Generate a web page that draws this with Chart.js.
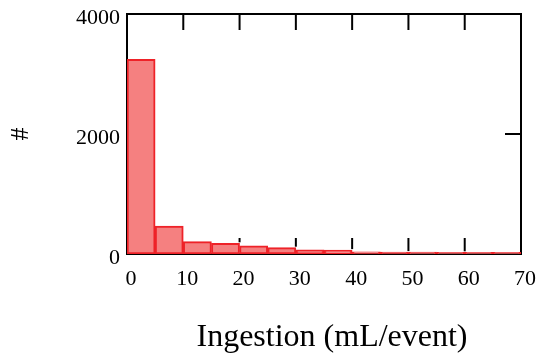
<!DOCTYPE html>
<html>
<head>
<meta charset="utf-8">
<script src="https://cdn.jsdelivr.net/npm/chart.js@4"></script>
<style>
  html, body { margin: 0; padding: 0; background: #fff; }
  #wrap { width: 538px; height: 354px; }
</style>
</head>
<body>
<div id="wrap"><canvas id="histChart"></canvas></div>
<script>
// histogram bins (mL/event), 5 mL wide
const binCenters = [2.5, 7.5, 12.5, 17.5, 22.5, 27.5, 32.5, 37.5, 42.5, 47.5, 52.5, 57.5, 62.5, 67.5];
const counts = [3245, 465, 205, 178, 138, 105, 68, 65, 35, 32, 30, 28, 27, 27];
const xTicks = [0, 10, 20, 30, 40, 50, 60, 70];
const yTicks = [0, 2000, 4000];

const serif = "'Liberation Serif', 'DejaVu Serif', serif";
const TICK_LEN = 16;

function xPix(a, v) {
  const xMin = xTicks[0], xMax = xTicks[xTicks.length - 1];
  return a.left + (v - xMin) / (xMax - xMin) * (a.right - a.left);
}

// box frame + inward ticks (bottom ticks stop where a bar covers them)
const framePlugin = {
  id: "frame",
  beforeDatasetsDraw(chart) {
    const { ctx, chartArea: a } = chart;
    const ys = chart.scales.y;
    ctx.save();
    ctx.strokeStyle = "#000";
    ctx.lineWidth = 2;
    ctx.strokeRect(a.left, a.top, a.right - a.left, a.bottom - a.top);
    xTicks.forEach(v => {
      const px = xPix(a, v);
      ctx.beginPath();
      ctx.moveTo(px, a.top); ctx.lineTo(px, a.top + TICK_LEN);
      ctx.stroke();
    });
    yTicks.forEach(v => {
      const py = ys.getPixelForValue(v);
      ctx.beginPath();
      ctx.moveTo(a.left, py); ctx.lineTo(a.left + TICK_LEN, py);
      ctx.moveTo(a.right, py); ctx.lineTo(a.right - TICK_LEN, py);
      ctx.stroke();
    });
    ctx.restore();
  },
  afterDatasetsDraw(chart) {
    const { ctx, chartArea: a } = chart;
    const bars = chart.getDatasetMeta(0).data;
    ctx.save();
    ctx.strokeStyle = "#000";
    ctx.lineWidth = 2;
    xTicks.forEach(v => {
      const px = xPix(a, v);
      let stop = a.bottom;
      bars.forEach(b => {
        if (b.x - b.width / 2 - 2 <= px && b.x + b.width / 2 + 2 >= px) stop = Math.min(stop, b.y - 1);
      });
      const y1 = a.bottom - TICK_LEN;
      if (stop > y1) {
        ctx.beginPath();
        ctx.moveTo(px, y1); ctx.lineTo(px, stop);
        ctx.stroke();
      }
    });
    ctx.restore();
  }
};

new Chart(document.getElementById("histChart"), {
  type: "bar",
  data: {
    datasets: [{
      data: binCenters.map((c, i) => ({ x: c, y: counts[i] })),
      backgroundColor: "rgb(245,128,128)",
      borderColor: "rgb(238,34,40)",
      borderWidth: 2,
      borderSkipped: false,
      barPercentage: 1,
      categoryPercentage: 1
    }]
  },
  options: {
    responsive: true,
    maintainAspectRatio: false,
    animation: false,
    layout: { padding: { top: 14, right: 17, left: 0, bottom: 0 } },
    plugins: { legend: { display: false }, tooltip: { enabled: false } },
    scales: {
      x: {
        type: "linear",
        min: 0, max: 70,
        offset: false,
        grid: { display: false, drawTicks: false },
        border: { display: false },
        afterBuildTicks: s => { s.ticks = xTicks.map(v => ({ value: v })); },
        ticks: { color: "#000", font: { family: serif, size: 22 }, padding: 12, maxRotation: 0,
                 labelOffset: 4, callback: v => String(v) },
        title: { display: true, text: "\u2002Ingestion (mL/event)", color: "#000",
                 font: { family: serif, size: 32, lineHeight: 1.0 }, padding: { top: 0, bottom: 0 } },
        afterFit: s => { s.height = 100; s.paddingLeft = 0; s.paddingRight = 0; }
      },
      y: {
        min: 0, max: 4000,
        grid: { display: false, drawTicks: false },
        border: { display: false },
        afterBuildTicks: s => { s.ticks = yTicks.map(v => ({ value: v })); },
        ticks: { color: "#000", font: { family: serif, size: 22 }, padding: 7,
                 labelOffset: 4, callback: v => String(v) },
        title: { display: true, text: "#", color: "#000",
                 font: { family: serif, size: 26, lineHeight: 1.2 }, padding: { top: 6, bottom: 0 } },
        afterFit: s => { s.width = 127; s.paddingTop = 0; s.paddingBottom = 0; }
      }
    }
  },
  plugins: [framePlugin]
});
</script>
</body>
</html>
